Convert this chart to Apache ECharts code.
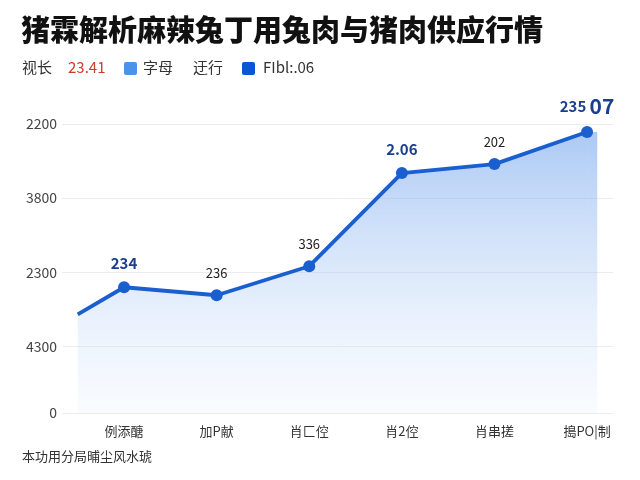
<!DOCTYPE html>
<html>
<head>
<meta charset="utf-8">
<script src="https://cdn.jsdelivr.net/npm/echarts@6/dist/echarts.min.js"></script>
<style>html,body{margin:0;padding:0;background:#fff}#c{width:640px;height:480px}</style>
</head>
<body>
<div id="c"></div>
<script>
var titleText = '猪霖解析麻辣兔丁用兔肉与猪肉供应行情';
var footText = '本功用分局晡尘风水琥';
var categories = ['例添醣', '加P献', '肖匚倥', '肖2倥', '肖串搓', '搗PO|制'];
var catPositions = [0, 1, 2, 3, 4, 5];
var lineX = [-0.5, 0, 1, 2, 3, 4, 5];
var lineValues = [1332, 1697, 1589, 1981, 3238, 3359, 3792];
var pointLabels = ['', '234', '236', '336', '2.06', '202', '235 07'];
var areaTailX = [5, 5.11];
var areaTailValues = [3792, 3792];
var yTickValues = [0, 900, 1900, 2900, 3900];
var yTickLabels = ['0', '4300', '2300', '3800', '2200'];

var FONT = '"Noto Sans CJK SC", "Noto Sans", sans-serif';
var chart = echarts.init(document.getElementById('c'));

var grad = new echarts.graphic.LinearGradient(0, 124, 0, 413, [
  {offset: 0, color: 'rgba(105,158,236,0.58)'},
  {offset: 1, color: 'rgba(228,239,253,0.22)'}
], true);

var lineData = lineX.map(function (x, i) { return [x, lineValues[i]]; });
var tailData = areaTailX.map(function (x, i) { return [x, areaTailValues[i]]; });

function labelFor(i) {
  var t = pointLabels[i];
  if (!t) return {show: false};
  var bold = (i === 1 || i === 4);
  if (i === 6) {
    return {show: true, position: 'top', distance: 9, formatter: '{a|235} {b|07}',
      rich: {a: {fontSize: 15, fontWeight: 'bold', color: '#1b3f8f', fontFamily: FONT},
             b: {fontSize: 21, fontWeight: 'bold', color: '#1b3f8f', fontFamily: FONT}}};
  }
  return {show: true, position: 'top', distance: 10, formatter: t,
    fontSize: bold ? 15 : 13, fontWeight: bold ? 'bold' : 'normal',
    color: bold ? '#1b3f8f' : '#222', fontFamily: FONT};
}

var seriesData = lineData.map(function (d, i) {
  return {value: d, label: labelFor(i), symbolSize: i === 0 ? 0 : 12};
});

chart.setOption({
  animation: false,
  grid: {left: 62, right: 27, top: 124, bottom: 67},
  xAxis: {
    type: 'value', min: -0.67, max: 5.28,
    axisLine: {show: false}, axisTick: {show: false, customValues: catPositions},
    splitLine: {show: false},
    axisLabel: {customValues: catPositions, margin: 12, fontSize: 13, color: '#333', fontFamily: FONT,
      formatter: function (v) { return categories[Math.round(v)]; }}
  },
  yAxis: {
    type: 'value', min: 0, max: 3900,
    axisLine: {show: false},
    axisTick: {show: false, customValues: yTickValues},
    splitLine: {show: true, lineStyle: {color: '#ececec', width: 1}},
    axisLabel: {customValues: yTickValues, margin: 5, fontSize: 14, color: '#444', fontFamily: FONT,
      formatter: function (v) { return yTickLabels[yTickValues.indexOf(v)]; }}
  },
  series: [
    {
      type: 'line', data: tailData, symbol: 'none', lineStyle: {width: 0},
      areaStyle: {color: grad, opacity: 1}, silent: true, z: 1
    },
    {
      type: 'line', data: seriesData, symbol: 'circle',
      itemStyle: {color: '#1a5fcf'},
      lineStyle: {color: '#1a5fcf', width: 3.8},
      areaStyle: {color: grad, opacity: 1}, z: 2
    }
  ],
  graphic: [
    {type: 'text', left: 21, top: 15, style: {text: titleText, font: '900 29px ' + FONT, fill: '#111'}},
    {type: 'text', left: 22, top: 60, style: {text: '视长', font: '15px ' + FONT, fill: '#333'}},
    {type: 'text', left: 68, top: 60, style: {text: '23.41', font: '15px ' + FONT, fill: '#d23a2a'}},
    {type: 'rect', shape: {x: 124, y: 62, width: 13, height: 13, r: 2}, style: {fill: '#4a92ea'}},
    {type: 'text', left: 143, top: 60, style: {text: '字母', font: '15px ' + FONT, fill: '#333'}},
    {type: 'text', left: 193, top: 60, style: {text: '迂行', font: '15px ' + FONT, fill: '#333'}},
    {type: 'rect', shape: {x: 242, y: 62, width: 13, height: 13, r: 2}, style: {fill: '#0b56d2'}},
    {type: 'text', left: 263, top: 60, style: {text: 'FIbl:.06', font: '15px ' + FONT, fill: '#333'}},
    {type: 'text', left: 22, top: 450, style: {text: footText, font: '13px ' + FONT, fill: '#333'}}
  ]
});
</script>
</body>
</html>
